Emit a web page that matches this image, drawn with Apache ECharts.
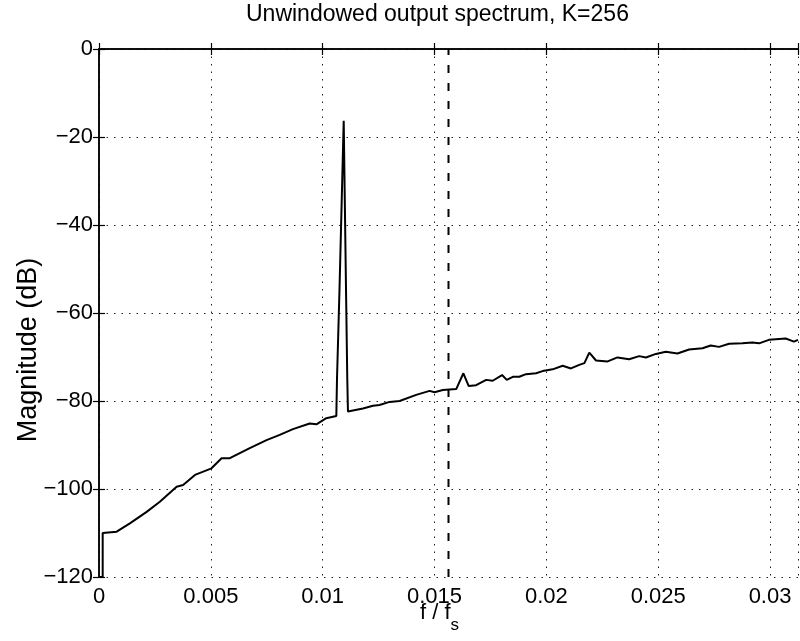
<!DOCTYPE html>
<html>
<head>
<meta charset="utf-8">
<script src="https://cdn.jsdelivr.net/npm/echarts@6/dist/echarts.min.js"></script>
<style>
html,body{margin:0;padding:0;background:#fff;}
#chart{width:800px;height:641px;}
</style>
</head>
<body>
<div id="chart"></div>
<script>
var titleText = 'Unwindowed output spectrum, K=256';
var xName = 'f / f';
var xNameSub = 's';
var yName = 'Magnitude (dB)';

var xTicks = [0, 0.005, 0.01, 0.015, 0.02, 0.025, 0.03];
var xTickLabels = ['0', '0.005', '0.01', '0.015', '0.02', '0.025', '0.03'];
var yTicks = [-120, -100, -80, -60, -40, -20, 0];
var yTickLabels = ['\u2212120', '\u2212100', '\u221280', '\u221260', '\u221240', '\u221220', '0'];

var bandEdge = 0.015625;
var bandEdgeRange = [-120, 0];

var freq = [
  0, 0.000165, 0.000165, 0.00079, 0.00138, 0.00213, 0.00272, 0.00347, 0.00376, 0.00429,
  0.00503, 0.00548, 0.00585, 0.00674, 0.00749, 0.00808, 0.00867, 0.00942, 0.00972, 0.01016,
  0.01061, 0.01064, 0.01075, 0.01094, 0.01105, 0.01110, 0.01113, 0.01180, 0.01225, 0.01254,
  0.01299, 0.01344, 0.01418, 0.01478, 0.01500, 0.01537, 0.01597, 0.01629, 0.01653, 0.01686,
  0.01731, 0.01760, 0.01802, 0.01823, 0.01850, 0.01879, 0.01909, 0.01954, 0.01983, 0.02028,
  0.02073, 0.02110, 0.02147, 0.02170, 0.02192, 0.02222, 0.02274, 0.02318, 0.02370, 0.02415,
  0.02445, 0.02490, 0.02534, 0.02586, 0.02638, 0.02698, 0.02735, 0.02772, 0.02817, 0.02876,
  0.02921, 0.02951, 0.02995, 0.03070, 0.03107, 0.03125
];
var mag = [
  -120, -120, -110, -109.7, -107.8, -105.2, -102.9, -99.5, -99.1, -96.8,
  -95.3, -93.0, -93.0, -90.7, -88.9, -87.7, -86.4, -85.1, -85.3, -83.9,
  -83.4, -75, -55, -16.3, -57, -75, -82.4, -81.7, -81.1, -80.9,
  -80.2, -80.0, -78.6, -77.7, -78.0, -77.5, -77.3, -73.7, -76.6, -76.4,
  -75.2, -75.4, -74.1, -75.2, -74.5, -74.5, -73.9, -73.7, -73.2, -72.8,
  -72.0, -72.6, -71.8, -71.4, -69.0, -70.8, -71.0, -70.1, -70.5, -69.8,
  -70.1, -69.3, -68.8, -69.2, -68.3, -68.0, -67.4, -67.7, -67.0, -66.9,
  -66.7, -66.9, -66.1, -65.8, -66.5, -66.1
];

var FONT = "'Liberation Sans', Arial, Helvetica, sans-serif";
var data = freq.map(function (f, i) { return [f, mag[i]]; });
var edgeData = bandEdgeRange.map(function (v) { return [bandEdge, v]; });

function labelFor(ticks, labels, v) {
  for (var i = 0; i < ticks.length; i++) {
    if (Math.abs(ticks[i] - v) < 1e-9) return labels[i];
  }
  return '';
}

var axisLine = { show: true, lineStyle: { color: '#000', width: 1.5 } };
var axisTick = { show: true, inside: true, length: 6, lineStyle: { color: '#000', width: 1.2 } };
var splitLine = { show: true, lineStyle: { color: '#222', width: 1, type: [1.5, 6] } };

var chart = echarts.init(document.getElementById('chart'), null, { renderer: 'canvas' });
chart.setOption({
  animation: false,
  backgroundColor: '#fff',
  title: {
    text: titleText,
    left: 246,
    top: 3,
    padding: 0,
    textStyle: { fontFamily: FONT, fontSize: 23, fontWeight: 'normal', color: '#000' }
  },
  grid: { left: 99, right: 2, top: 49, bottom: 64, containLabel: false, outerBoundsMode: 'none' },
  xAxis: [{
    type: 'value', position: 'bottom', min: 0, max: 0.03125, interval: 0.005,
    axisLine: axisLine, axisTick: axisTick, splitLine: splitLine,
    axisLabel: {
      margin: 9, fontFamily: FONT, fontSize: 22, color: '#000',
      formatter: function (v) { return labelFor(xTicks, xTickLabels, v); }
    },
    name: '{m|' + xName + '}{s|' + xNameSub + '}',
    nameLocation: 'middle', nameGap: 32, nameMoveOverlap: false,
    nameTextStyle: {
      fontFamily: FONT, color: '#000',
      rich: {
        m: { fontFamily: FONT, fontSize: 22, lineHeight: 22, padding: [0, 0, 14, 0], color: '#000' },
        s: { fontFamily: FONT, fontSize: 17, lineHeight: 17, padding: [15, 18, 4, 0], color: '#000' }
      }
    }
  }, {
    type: 'value', position: 'top', min: 0, max: 0.03125, interval: 0.005,
    axisLine: axisLine, axisTick: axisTick, splitLine: { show: false }, axisLabel: { show: false }
  }],
  yAxis: [{
    type: 'value', position: 'left', min: -120, max: 0, interval: 20,
    axisLine: axisLine, axisTick: axisTick, splitLine: splitLine,
    axisLabel: {
      margin: 6, fontFamily: FONT, fontSize: 22, color: '#000',
      formatter: function (v) { return labelFor(yTicks, yTickLabels, v); }
    },
    name: yName, nameLocation: 'middle', nameGap: 57, nameRotate: 90, nameMoveOverlap: false,
    nameTextStyle: { fontFamily: FONT, fontSize: 27, color: '#000', padding: [0, 74, 0, 0] }
  }, {
    type: 'value', position: 'right', min: -120, max: 0, interval: 20,
    axisLine: axisLine, axisTick: axisTick, splitLine: { show: false }, axisLabel: { show: false }
  }],
  series: [{
    type: 'line',
    xAxisIndex: 0, yAxisIndex: 0,
    data: edgeData,
    showSymbol: false,
    symbol: 'none',
    silent: true,
    lineStyle: { color: '#000', width: 2, type: [8, 10] },
    z: 1
  }, {
    type: 'line',
    xAxisIndex: 0, yAxisIndex: 0,
    data: data,
    showSymbol: false,
    symbol: 'none',
    clip: true,
    lineStyle: { color: '#000', width: 2 },
    z: 2
  }]
});
</script>
</body>
</html>
